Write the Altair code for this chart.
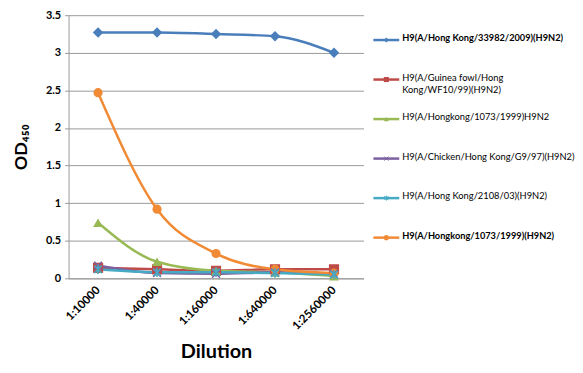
import altair as alt
import pandas as pd

dilutions = ["1:10000", "1:40000", "1:160000", "1:640000", "1:2560000"]
series = [
    "H9(A/Hong Kong/33982/2009)(H9N2)",
    "H9(A/Guinea fowl/Hong Kong/WF10/99)(H9N2)",
    "H9(A/Hongkong/1073/1999)H9N2",
    "H9(A/Chicken/Hong Kong/G9/97)(H9N2)",
    "H9(A/Hong Kong/2108/03)(H9N2)",
    "H9(A/Hongkong/1073/1999)(H9N2)",
]
legend_labels = [
    "H9(A/Hong Kong/33982/2009)(H9N2)",
    "H9(A/Guinea fowl/Hong\nKong/WF10/99)(H9N2)",
    "H9(A/Hongkong/1073/1999)H9N2",
    "H9(A/Chicken/Hong Kong/G9/97)(H9N2)",
    "H9(A/Hong Kong/2108/03)(H9N2)",
    "H9(A/Hongkong/1073/1999)(H9N2)",
]
bold = [True, False, False, False, False, True]
values = [
    [3.27, 3.27, 3.25, 3.22, 3.00],
    [0.14, 0.12, 0.10, 0.12, 0.12],
    [0.74, 0.22, 0.10, 0.08, 0.03],
    [0.17, 0.07, 0.06, 0.08, 0.06],
    [0.12, 0.08, 0.08, 0.07, 0.05],
    [2.47, 0.92, 0.33, 0.12, 0.07],
]
colors = ["#4A7EBB", "#BE4B48", "#98B954", "#7D60A0", "#46AAC5", "#F08A35"]
shapes = [
    "diamond",
    "square",
    "triangle-up",
    "M-0.8,-0.8L0.8,0.8M-0.8,0.8L0.8,-0.8",
    "M-0.8,-0.8L0.8,0.8M-0.8,0.8L0.8,-0.8M0,-1L0,1",
    "circle",
]
marker_sizes = [110, 85, 110, 100, 100, 115]
stroked = [False, False, False, True, True, False]

rows = []
for i, s in enumerate(series):
    for j, d in enumerate(dilutions):
        rows.append({"series": s, "dilution": d, "value": values[i][j],
                     "order": i, "stroked": stroked[i]})
df = pd.DataFrame(rows)

leg = pd.DataFrame({"series": series, "label": legend_labels, "bold": bold,
                    "stroked": stroked})

FONT = "Lato"
color = alt.Color("series:N", scale=alt.Scale(domain=series, range=colors), legend=None)
shape = alt.Shape("series:N", scale=alt.Scale(domain=series, range=shapes), legend=None)
size = alt.Size("series:N", scale=alt.Scale(domain=series, range=marker_sizes), legend=None)

x = alt.X("dilution:N", sort=dilutions, scale=alt.Scale(padding=0.5),
          axis=alt.Axis(title="Dilution", labelAngle=-45, labelAlign="right",
                        labelBaseline="middle", labelFont=FONT, labelFontWeight="bold",
                        labelFontSize=11.5, labelColor="#000", ticks=False,
                        labelPadding=10, titleFont=FONT, titleFontSize=20,
                        titleFontWeight="bold", titlePadding=10, titleColor="#000",
                        domainColor="#999", grid=False))
y = alt.Y("value:Q", scale=alt.Scale(domain=[0, 3.5], nice=False),
          axis=alt.Axis(title="OD₄₅₀", values=[0, 0.5, 1, 1.5, 2, 2.5, 3, 3.5],
                        format=".1~f", labelFont=FONT, labelFontWeight="bold",
                        labelFontSize=11, labelColor="#000", tickSize=4,
                        tickColor="#999", labelPadding=4, gridColor="#999",
                        domainColor="#999", titleFont=FONT, titleFontSize=18,
                        titleFontWeight="bold", titleColor="#000", titlePadding=15))

lines = alt.Chart(df).mark_line(interpolate="monotone", strokeWidth=2.5).encode(
    x=x, y=y, color=color, order="order:Q")
pts_f = alt.Chart(df).transform_filter("!datum.stroked").mark_point(
    filled=True, opacity=1).encode(x=x, y=y, color=color, shape=shape, size=size)
pts_s = alt.Chart(df).transform_filter("datum.stroked").mark_point(
    filled=False, strokeWidth=1.6, opacity=1).encode(x=x, y=y, color=color, shape=shape, size=size)

main = alt.layer(lines, pts_f, pts_s).properties(width=297, height=265)

ly = alt.Y("series:N", scale=alt.Scale(type="point", domain=series, range=[25, 224], padding=0),
           axis=None)
lrule = alt.Chart(leg).mark_rule(strokeWidth=2.5).encode(
    x=alt.value(10), x2=alt.value(36), y=ly, color=color)
lpf = alt.Chart(leg).transform_filter("!datum.stroked").mark_point(
    filled=True, size=26, opacity=1).encode(x=alt.value(23), y=ly, color=color, shape=shape)
lps = alt.Chart(leg).transform_filter("datum.stroked").mark_point(
    filled=False, size=26, strokeWidth=1, opacity=1).encode(x=alt.value(23), y=ly, color=color, shape=shape)
ltext_b = alt.Chart(leg).transform_filter("datum.bold").mark_text(
    align="left", baseline="top", dy=-6, font=FONT, fontSize=9.3, fontWeight="bold",
    lineBreak="\n", lineHeight=13, color="#000").encode(x=alt.value(39), y=ly, text="label:N")
ltext_n = alt.Chart(leg).transform_filter("!datum.bold").mark_text(
    align="left", baseline="top", dy=-6, font=FONT, fontSize=9.4,
    lineBreak="\n", lineHeight=13, color="#000").encode(x=alt.value(39), y=ly, text="label:N")

legend = alt.layer(lrule, lpf, lps, ltext_b, ltext_n).properties(width=150, height=265)

chart = alt.hconcat(main, legend, spacing=0).configure(
    background="white", padding={"left": 4, "top": 0, "right": 0, "bottom": 0}
).configure_view(stroke=None)

chart.save("out.html", embed_options={"renderer": "svg", "actions": False})
